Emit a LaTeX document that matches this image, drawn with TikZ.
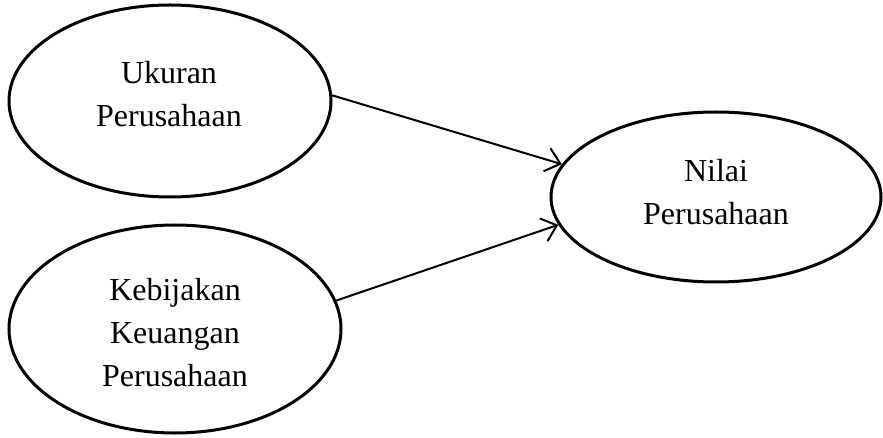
\documentclass[tikz,border=0pt]{standalone}
\usepackage{fontspec}
\setmainfont{Liberation Serif}
\usetikzlibrary{shapes.geometric,arrows.meta}
\begin{document}
\begin{tikzpicture}[x=1pt,y=-1pt,
  ell/.style={draw, ellipse, line width=3pt, inner sep=0pt},
  txt/.style={align=center, font=\fontsize{32}{43}\selectfont, inner sep=0pt},
  arr/.style={line width=2pt, -{Straight Barb[length=14pt,width=24pt,line width=2pt]}}]
\useasboundingbox (0,0) rectangle (883,438);
\node[ell, minimum width=322pt, minimum height=192pt] (u) at (170,101) {};
\node[ell, minimum width=332pt, minimum height=208pt] (k) at (175,329) {};
\node[ell, minimum width=330pt, minimum height=170pt] (n) at (716,197) {};
\node[txt] (ut) at (169,94) {Ukuran\\Perusahaan};
\node[txt] (kt) at (175,333) {Kebijakan\\Keuangan\\Perusahaan};
\node[txt] (nt) at (716,192) {Nilai\\Perusahaan};
\draw[arr] (u.2.5) -- (n.168);
\draw[arr] (k.10) -- (n.190);
\end{tikzpicture}
\end{document}
